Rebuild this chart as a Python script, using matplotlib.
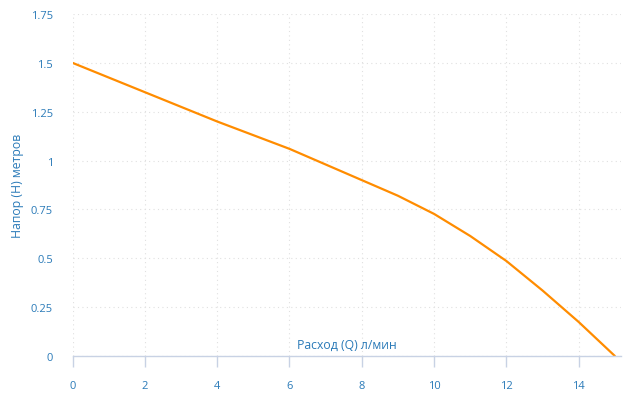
import matplotlib
matplotlib.use('Agg')
import matplotlib.pyplot as plt

flow = [0, 2, 4, 6, 8, 9, 10, 11, 12, 13, 14, 15]
head = [1.5, 1.35, 1.2, 1.06, 0.9, 0.82, 0.727, 0.614, 0.486, 0.335, 0.174, 0.0]
xticks = [0, 2, 4, 6, 8, 10, 12, 14]
yticks = [0, 0.25, 0.5, 0.75, 1, 1.25, 1.5, 1.75]
ylabels = ['0', '0.25', '0.5', '0.75', '1', '1.25', '1.5', '1.75']

txt = '#2a7ab8'
axcol = '#c8d2e4'
plt.rcParams['font.family'] = ['Open Sans', 'DejaVu Sans']

fig = plt.figure(figsize=(6.34, 4.10), dpi=100)
ax = fig.add_axes([0.1144, 0.1293, 0.9795 - 0.1144, 0.9634 - 0.1293])

ax.plot(flow, head, color='#ff8c00', lw=1.6, solid_capstyle='round')

ax.set_xlim(0, 15.17)
ax.set_ylim(0, 1.75)
ax.set_xticks(xticks)
ax.set_yticks(yticks)
ax.set_yticklabels(ylabels)
ax.grid(True, color='#e0e0e0', linestyle=(0, (1, 3)), lw=0.8)

for s in ['top', 'right', 'left']:
    ax.spines[s].set_visible(False)
ax.spines['bottom'].set_color(axcol)
ax.spines['bottom'].set_linewidth(1.0)
ax.tick_params(axis='x', colors=axcol, length=8, width=1, labelcolor=txt, labelsize=8, pad=9)
ax.tick_params(axis='y', length=0, labelcolor=txt, labelsize=8, pad=14)

ax.set_ylabel('Напор (H) метров', color=txt, fontsize=8.8, labelpad=5)
ax.text(0.5, 0.015, 'Расход (Q) л/мин', transform=ax.transAxes, ha='center',
        va='bottom', color=txt, fontsize=8.8)

plt.savefig('out.png', dpi=100)
